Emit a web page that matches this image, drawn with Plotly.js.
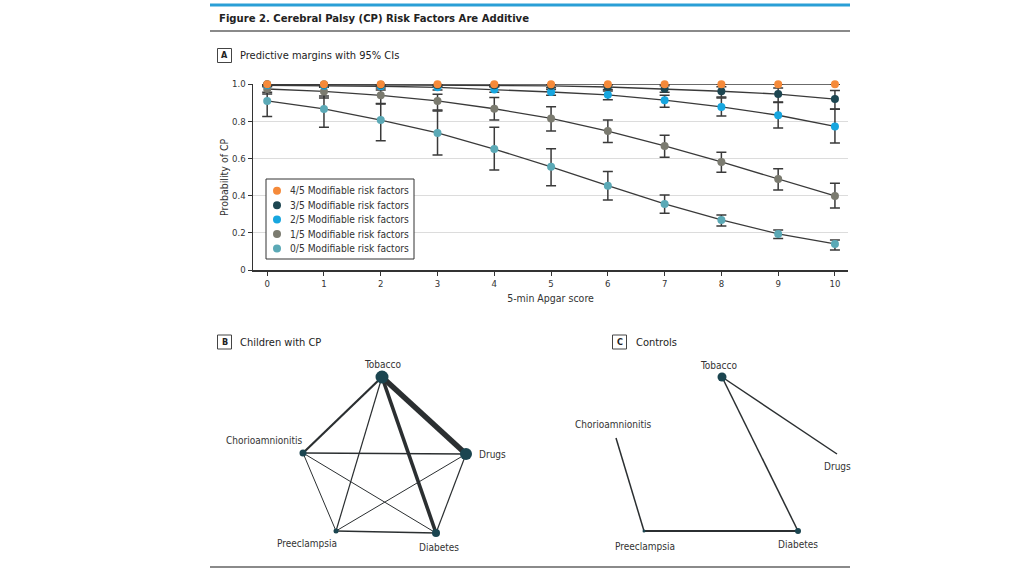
<!DOCTYPE html>
<html><head><meta charset="utf-8">
<script src="https://cdn.plot.ly/plotly-3.0.1.min.js"></script>
<style>html,body{margin:0;padding:0;background:#fff}#chart{width:1024px;height:576px}</style>
</head><body><div id="chart"></div>
<script>
// ---------- Panel A data ----------
const apgar = [0,1,2,3,4,5,6,7,8,9,10];
const seriesNames = ['0/5 Modifiable risk factors','1/5 Modifiable risk factors','2/5 Modifiable risk factors','3/5 Modifiable risk factors','4/5 Modifiable risk factors'];
const p0 = [0.909,0.866,0.806,0.737,0.650,0.555,0.453,0.355,0.269,0.194,0.140];
const p0lo = [0.825,0.767,0.695,0.618,0.538,0.453,0.376,0.305,0.237,0.170,0.108];
const p0hi = [0.955,0.935,0.892,0.855,0.767,0.652,0.529,0.403,0.296,0.215,0.161];
const p1 = [0.973,0.960,0.939,0.909,0.867,0.815,0.747,0.667,0.581,0.489,0.398];
const p1lo = [0.946,0.925,0.895,0.860,0.806,0.747,0.685,0.606,0.525,0.430,0.333];
const p1hi = [0.990,0.985,0.968,0.945,0.928,0.878,0.806,0.724,0.633,0.545,0.466];
const p2 = [0.993,0.991,0.988,0.982,0.971,0.957,0.942,0.913,0.877,0.832,0.772];
const p2lo = [0.985,0.982,0.978,0.968,0.955,0.940,0.915,0.875,0.828,0.763,0.683];
const p2hi = [0.998,0.997,0.995,0.992,0.985,0.970,0.962,0.940,0.925,0.900,0.864];
const p3 = [0.998,0.997,0.996,0.995,0.993,0.990,0.984,0.974,0.961,0.946,0.919];
const p3lo = [0.993,0.992,0.990,0.988,0.985,0.980,0.970,0.955,0.930,0.903,0.866];
const p3hi = [1.000,1.000,0.999,0.999,0.998,0.997,0.995,0.990,0.985,0.978,0.965];
const p4 = [0.999,0.999,0.999,0.999,0.999,0.999,0.999,0.999,0.999,0.999,0.999];
const p4lo = [0.998,0.998,0.998,0.998,0.998,0.998,0.998,0.998,0.998,0.998,0.998];
const p4hi = [1.000,1.000,1.000,1.000,1.000,1.000,1.000,1.000,1.000,1.000,1.000];
const yTickVals = [0,0.2,0.4,0.6,0.8,1.0];
const yTickText = ['0','0.2','0.4','0.6','0.8','1.0'];

// ---------- Panel B / C network data ----------
const nodeNames = ['Tobacco','Drugs','Chorioamnionitis','Preeclampsia','Diabetes'];
// network layout coordinates (drawing units)
const nodeBx = [132,216,53,86,186];
const nodeBy = [183,106,107,29,27];
const nodeBsize = [13,12,7,5,8];
const edgesBfrom = [0,0,0,0,2,2,2,1,1,3];
const edgesBto   = [1,4,2,3,1,3,4,3,4,4];
const edgesBw    = [5.5,3.6,2.2,1.2,1.5,1.0,1.0,1.0,1.2,1.6];
const nodeCx = [132,247,26,54,208];
const nodeCy = [183,106,122,29,29];
const nodeCsize = [9,0,0,3,6];
const edgesCfrom = [0,0,3,2];
const edgesCto   = [1,4,4,3];
const edgesCw    = [1.5,1.5,2.2,1.5];

const FONT = '"DejaVu Sans Condensed","Liberation Sans Narrow","Roboto",sans-serif';
const colors = ['#5ba9b6','#7b7b70','#17a6df','#1d4651','#f58a3a'];
const px = x => x/1024, py = y => 1 - y/576;

const traces = [];
const P = [p0,p1,p2,p3,p4], LO=[p0lo,p1lo,p2lo,p3lo,p4lo], HI=[p0hi,p1hi,p2hi,p3hi,p4hi];
for (let s=0; s<5; s++) {
  traces.push({
    x: apgar, y: P[s], type:'scatter', mode:'lines+markers', showlegend:false,
    xaxis:'x', yaxis:'y', cliponaxis:false,
    line:{color:'#3a3a3a', width:1.3},
    marker:{color:colors[s], size:8},
    error_y:{type:'data', symmetric:false,
      array: HI[s].map((h,i)=>Math.max(0,h-P[s][i])),
      arrayminus: LO[s].map((l,i)=>Math.max(0,P[s][i]-l)),
      color:'#3a3a3a', thickness:1.5, width:5}
  });
}
function addNetwork(nx, ny, ns, ef, et, ew, xa, ya) {
  for (let i=0;i<ef.length;i++) {
    traces.push({x:[nx[ef[i]], nx[et[i]]], y:[ny[ef[i]], ny[et[i]]], type:'scatter', mode:'lines',
      xaxis:xa, yaxis:ya, showlegend:false, hoverinfo:'skip', cliponaxis:false,
      line:{color:'#2b2f31', width:ew[i]}});
  }
  traces.push({x:nx, y:ny, type:'scatter', mode:'markers', xaxis:xa, yaxis:ya, showlegend:false,
    cliponaxis:false, marker:{color:'#1b4550', size:ns, opacity:1, line:{width:0}}});
}
addNetwork(nodeBx,nodeBy,nodeBsize,edgesBfrom,edgesBto,edgesBw,'x2','y2');
addNetwork(nodeCx,nodeCy,nodeCsize,edgesCfrom,edgesCto,edgesCw,'x3','y3');

// ---------- custom legend (drawn on an overlay in page pixel units) ----------
const legX = 266, legY = 179, legW = 148, legH = 80, legRow = 14.4, legFirst = 11.8;
const legOrder = [4,3,2,1,0];
traces.push({x: legOrder.map(()=>legX+11), y: legOrder.map((s,i)=>legY+legFirst+i*legRow),
  type:'scatter', mode:'markers', xaxis:'x4', yaxis:'y4', showlegend:false, cliponaxis:false,
  marker:{color: legOrder.map(s=>colors[s]), size:8}});

const annotations = [
  {text:'Figure 2. Cerebral Palsy (CP) Risk Factors Are Additive', x:px(217), y:py(18), xref:'paper', yref:'paper',
   xanchor:'left', yanchor:'middle', showarrow:false, font:{family:FONT, size:11.2, color:'#222', weight:700}},
  {text:'A', x:px(224.5), y:py(55.5), xref:'paper', yref:'paper', xanchor:'center', yanchor:'middle', showarrow:false, font:{family:FONT,size:9,color:'#222',weight:700}},
  {text:'Predictive margins with 95% CIs', x:px(238), y:py(55.5), xref:'paper', yref:'paper', xanchor:'left', yanchor:'middle', showarrow:false, font:{family:FONT,size:11,color:'#222'}},
  {text:'B', x:px(224.5), y:py(342), xref:'paper', yref:'paper', xanchor:'center', yanchor:'middle', showarrow:false, font:{family:FONT,size:9,color:'#222',weight:700}},
  {text:'Children with CP', x:px(238), y:py(342), xref:'paper', yref:'paper', xanchor:'left', yanchor:'middle', showarrow:false, font:{family:FONT,size:11,color:'#222'}},
  {text:'C', x:px(619.5), y:py(342), xref:'paper', yref:'paper', xanchor:'center', yanchor:'middle', showarrow:false, font:{family:FONT,size:9,color:'#222',weight:700}},
  {text:'Controls', x:px(634), y:py(342), xref:'paper', yref:'paper', xanchor:'left', yanchor:'middle', showarrow:false, font:{family:FONT,size:11,color:'#222'}},
  {text:'Probability of CP', x:px(224), y:py(177), xref:'paper', yref:'paper', xanchor:'center', yanchor:'middle', textangle:-90, showarrow:false, font:{family:FONT,size:10.5,color:'#333'}},
];
legOrder.forEach((s,i)=>{
  annotations.push({text:seriesNames[s], x:legX+22, y:legY+legFirst+i*legRow, xref:'x4', yref:'y4', xanchor:'left', yanchor:'middle',
    showarrow:false, font:{family:FONT,size:10.2,color:'#333'}});
});
const labB = [[0,13,'center'],[11,0,'left'],[-39,13,'center'],[-29,-12,'center'],[3,-14,'center']];
const labC = [[-4,12,'center'],[0,-12,'center'],[-3,14,'center'],[1,-15,'center'],[0,-13,'center']];
nodeNames.forEach((n,i)=>{
  annotations.push({text:n, x:nodeBx[i], y:nodeBy[i], xref:'x2', yref:'y2', showarrow:false, xanchor:labB[i][2], yanchor:'middle',
    xshift:labB[i][0], yshift:labB[i][1], font:{family:FONT,size:10,color:'#333'}});
  annotations.push({text:n, x:nodeCx[i], y:nodeCy[i], xref:'x3', yref:'y3', showarrow:false, xanchor:labC[i][2], yanchor:'middle',
    xshift:labC[i][0], yshift:labC[i][1], font:{family:FONT,size:10,color:'#333'}});
});

const shapes = [
  {type:'line', xref:'paper', yref:'paper', x0:px(210), x1:px(850), y0:py(5), y1:py(5), line:{color:'#2a9fd6', width:3}},
  {type:'line', xref:'paper', yref:'paper', x0:px(210), x1:px(850), y0:py(31), y1:py(31), line:{color:'#8a8a8a', width:2}},
  {type:'line', xref:'paper', yref:'paper', x0:px(210), x1:px(850), y0:py(567), y1:py(567), line:{color:'#8a8a8a', width:2}},
  {type:'rect', xref:'paper', yref:'paper', x0:px(217.5), x1:px(231.5), y0:py(48.5), y1:py(62.5), line:{color:'#444', width:1}},
  {type:'rect', xref:'paper', yref:'paper', x0:px(217.5), x1:px(231.5), y0:py(335), y1:py(349), line:{color:'#444', width:1}},
  {type:'rect', xref:'paper', yref:'paper', x0:px(612.5), x1:px(626.5), y0:py(335), y1:py(349), line:{color:'#444', width:1}},
  {type:'rect', xref:'x4', yref:'y4', layer:'between', x0:legX, x1:legX+legW, y0:legY, y1:legY+legH, fillcolor:'#fff', line:{color:'#333', width:1}},
];

const hidden = {visible:false, showgrid:false, zeroline:false, fixedrange:true};
const layout = {
  width:1024, height:576, margin:{l:0,r:0,t:0,b:0}, paper_bgcolor:'#fff', plot_bgcolor:'rgba(0,0,0,0)',
  font:{family:FONT, color:'#333', size:10},
  showlegend:false,
  xaxis:{domain:[px(253),px(848)], range:[-0.25,10.23], tickvals:apgar, ticks:'outside', ticklen:4, tickcolor:'#333',
    showline:true, linecolor:'#333', linewidth:1.5, showgrid:false, zeroline:false, anchor:'y',
    tickfont:{family:FONT,size:9.5,color:'#333'}, title:{text:'5-min Apgar score', standoff:6, font:{family:FONT,size:10.5,color:'#333'}}},
  yaxis:{domain:[py(270),py(84)], range:[0,1], tickvals:yTickVals, ticktext:yTickText, ticks:'outside', ticklen:4, tickcolor:'#333',
    showline:true, linecolor:'#333', linewidth:1.5, showgrid:true, gridcolor:'#dcdcdc', gridwidth:1, zeroline:false, anchor:'x',
    tickfont:{family:FONT,size:9.5,color:'#333'}},
  xaxis2:Object.assign({domain:[px(250),px(500)], range:[0,250], anchor:'y2'}, hidden),
  yaxis2:Object.assign({domain:[py(560),py(355)], range:[0,205], anchor:'x2'}, hidden),
  xaxis3:Object.assign({domain:[px(590),px(860)], range:[0,270], anchor:'y3'}, hidden),
  yaxis3:Object.assign({domain:[py(560),py(355)], range:[0,205], anchor:'x3'}, hidden),
  xaxis4:Object.assign({domain:[0,1], range:[0,1024], anchor:'y4'}, hidden),
  yaxis4:Object.assign({domain:[0,1], range:[576,0], anchor:'x4'}, hidden),
  annotations, shapes
};
Plotly.newPlot('chart', traces, layout, {staticPlot:true, displayModeBar:false});
</script></body></html>
